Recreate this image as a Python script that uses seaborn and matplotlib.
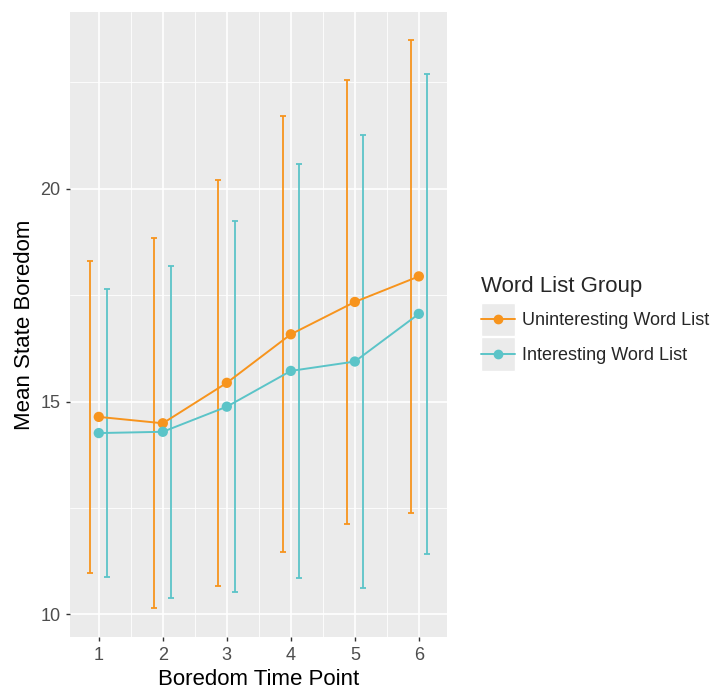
import numpy as np
import pandas as pd
import seaborn as sns
import matplotlib
matplotlib.use("Agg")
import matplotlib.pyplot as plt
from matplotlib.lines import Line2D
from matplotlib.patches import Patch
from matplotlib.legend_handler import HandlerTuple, HandlerLine2D
from matplotlib.ticker import MultipleLocator

# Boredom measured at six time points, per word-list group
time_points = [1, 2, 3, 4, 5, 6]
groups = ["Uninteresting Word List", "Interesting Word List"]
mean_uninteresting = [14.64, 14.49, 15.44, 16.58, 17.34, 17.94]
sd_uninteresting = [3.67, 4.34, 4.77, 5.12, 5.21, 5.55]
mean_interesting = [14.26, 14.29, 14.88, 15.72, 15.94, 17.06]
sd_interesting = [3.38, 3.90, 4.35, 4.87, 5.32, 5.63]

colors = {"Uninteresting Word List": "#F7941D", "Interesting Word List": "#5BC4C8"}

df = pd.DataFrame({
    "time": time_points * 2,
    "group": [groups[0]] * 6 + [groups[1]] * 6,
    "mean": mean_uninteresting + mean_interesting,
    "sd": sd_uninteresting + sd_interesting,
})


class CenteredLineHandler(HandlerLine2D):
    """Legend line+marker drawn through the vertical centre of the key box."""

    def create_artists(self, legend, orig_handle, xdescent, ydescent,
                       width, height, fontsize, trans):
        artists = super().create_artists(legend, orig_handle, xdescent, ydescent,
                                         width, height, fontsize, trans)
        for a in artists:
            a.set_ydata(np.asarray(a.get_ydata()) - ydescent / 2)
        return artists


sns.set_theme(style="darkgrid")
plt.rcParams["font.family"] = ["Liberation Sans", "DejaVu Sans"]

fig = plt.figure(figsize=(7.13, 6.92), dpi=100)
ax = fig.add_axes([70 / 713, 1 - 637 / 692, (447 - 70) / 713, (637 - 12) / 692])
ax.set_facecolor("#EBEBEB")

# error bars, dodged left/right of each time point
dodge = {groups[0]: -0.13, groups[1]: 0.13}
for g in groups:
    sub = df[df["group"] == g]
    ax.errorbar(sub["time"] + dodge[g], sub["mean"], yerr=sub["sd"], fmt="none",
                ecolor=colors[g], elinewidth=1.3, capsize=2, capthick=1.3, zorder=2)

sns.lineplot(data=df, x="time", y="mean", hue="group", palette=colors,
             hue_order=groups, linewidth=1.4, ax=ax, legend=False, zorder=3)
sns.scatterplot(data=df, x="time", y="mean", hue="group", palette=colors,
                hue_order=groups, s=55, edgecolor="none", ax=ax, legend=False, zorder=4)

ax.set_xlim(0.55, 6.44)
ax.set_ylim(9.47, 24.15)
ax.set_xticks(time_points)
ax.yaxis.set_major_locator(MultipleLocator(5))
ax.set_xticks([1.5, 2.5, 3.5, 4.5, 5.5], minor=True)
ax.set_yticks([12.5, 17.5, 22.5], minor=True)
ax.grid(which="major", color="white", linewidth=1.2)
ax.grid(which="minor", color="white", linewidth=0.6)
for s in ax.spines.values():
    s.set_visible(False)
ax.tick_params(axis="both", which="major", length=3, width=1, color="#333333",
               labelsize=13, labelcolor="#4D4D4D", pad=4, bottom=True, left=True)
ax.tick_params(axis="both", which="minor", length=0)

ax.set_xlabel("Boredom Time Point", fontsize=16, color="black", labelpad=4)
ax.set_ylabel("Mean State Boredom", fontsize=16, color="black", labelpad=4)

handles = [(Patch(facecolor="#EBEBEB", edgecolor="white", linewidth=1),
            Line2D([], [], color=colors[g], marker="o", markersize=6, linewidth=1.4))
           for g in groups]
leg = fig.legend(handles, groups, title="Word List Group", loc="upper left",
                 bbox_to_anchor=(481 / 713, 1 - 276 / 692), frameon=False,
                 handler_map={tuple: HandlerTuple(ndivide=1),
                              Line2D: CenteredLineHandler()},
                 handlelength=1.88, handleheight=2.5, handletextpad=0.4,
                 labelspacing=0.05, fontsize=13, title_fontsize=16,
                 borderaxespad=0, borderpad=0)
leg._legend_box.align = "left"
leg._legend_box.sep = 4

fig.savefig("out.png", dpi=100)
